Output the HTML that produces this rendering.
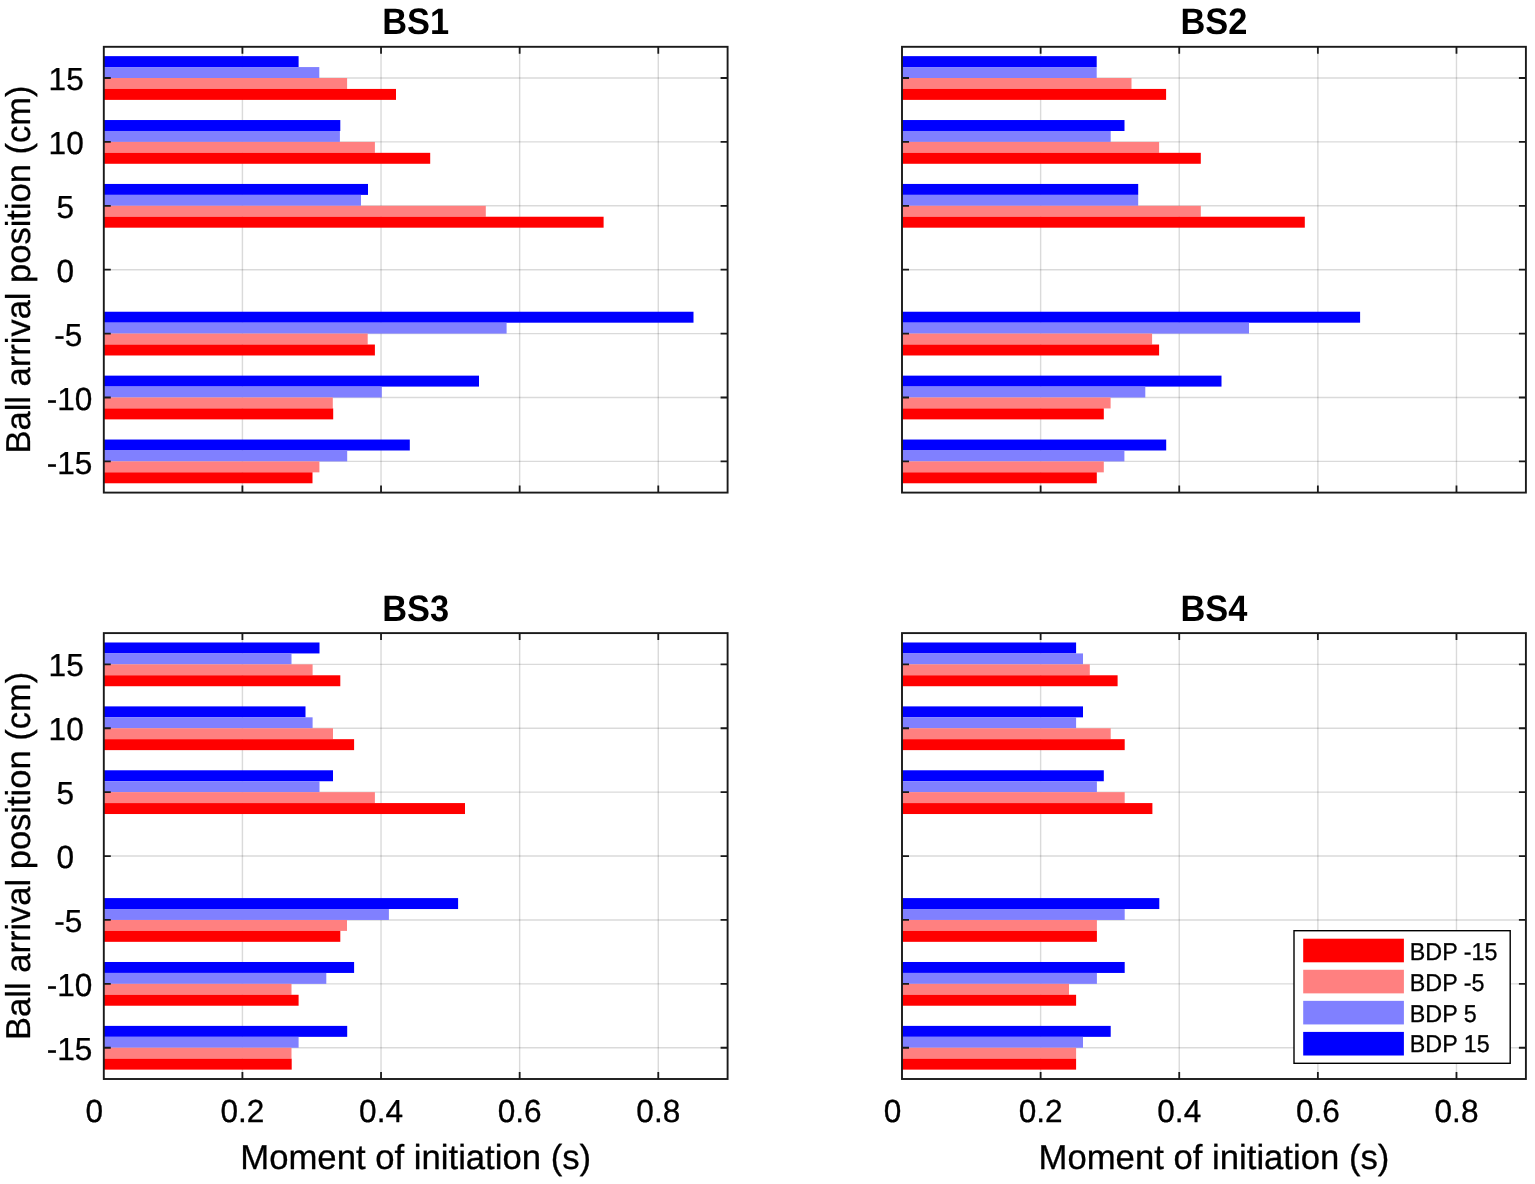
<!DOCTYPE html>
<html><head><meta charset="utf-8"><title>Moment of initiation</title>
<style>html,body{margin:0;padding:0;background:#fff;}body{width:1535px;height:1184px;overflow:hidden;}svg{display:block;}text{font-family:'Liberation Sans', Arial, Helvetica, sans-serif;text-rendering:geometricPrecision;}</style>
</head><body>
<svg width="1535" height="1184" viewBox="0 0 1535 1184">
<rect x="0" y="0" width="1535" height="1184" fill="#fff"/>
<g id="ax1">
<path d="M242.42 46.8V492.6M381.04 46.8V492.6M519.66 46.8V492.6M658.28 46.8V492.6" stroke="#262626" stroke-opacity="0.17" stroke-width="1.4" fill="none"/>
<path d="M103.8 78H727.6M103.8 141.9H727.6M103.8 205.8H727.6M103.8 269.7H727.6M103.8 333.6H727.6M103.8 397.5H727.6M103.8 461.4H727.6" stroke="#262626" stroke-opacity="0.17" stroke-width="1.4" fill="none"/>
<rect x="103.8" y="56.14" width="194.8" height="10.95" fill="#0000ff"/>
<rect x="103.8" y="67.07" width="215.5" height="10.95" fill="#8080ff"/>
<rect x="103.8" y="78" width="243.3" height="10.95" fill="#ff8080"/>
<rect x="103.8" y="88.93" width="292.2" height="10.95" fill="#ff0000"/>
<rect x="103.8" y="120.04" width="236.5" height="10.95" fill="#0000ff"/>
<rect x="103.8" y="130.97" width="236.1" height="10.95" fill="#8080ff"/>
<rect x="103.8" y="141.9" width="271.1" height="10.95" fill="#ff8080"/>
<rect x="103.8" y="152.83" width="326.4" height="10.95" fill="#ff0000"/>
<rect x="103.8" y="183.94" width="264.2" height="10.95" fill="#0000ff"/>
<rect x="103.8" y="194.87" width="257.2" height="10.95" fill="#8080ff"/>
<rect x="103.8" y="205.8" width="382" height="10.95" fill="#ff8080"/>
<rect x="103.8" y="216.73" width="499.8" height="10.95" fill="#ff0000"/>
<rect x="103.8" y="311.74" width="589.7" height="10.95" fill="#0000ff"/>
<rect x="103.8" y="322.67" width="402.8" height="10.95" fill="#8080ff"/>
<rect x="103.8" y="333.6" width="263.9" height="10.95" fill="#ff8080"/>
<rect x="103.8" y="344.53" width="271.1" height="10.95" fill="#ff0000"/>
<rect x="103.8" y="375.64" width="375.2" height="10.95" fill="#0000ff"/>
<rect x="103.8" y="386.57" width="278" height="10.95" fill="#8080ff"/>
<rect x="103.8" y="397.5" width="229" height="10.95" fill="#ff8080"/>
<rect x="103.8" y="408.43" width="229.4" height="10.95" fill="#ff0000"/>
<rect x="103.8" y="439.54" width="306" height="10.95" fill="#0000ff"/>
<rect x="103.8" y="450.47" width="243.4" height="10.95" fill="#8080ff"/>
<rect x="103.8" y="461.4" width="215.6" height="10.95" fill="#ff8080"/>
<rect x="103.8" y="472.33" width="208.7" height="10.95" fill="#ff0000"/>
<path d="M242.42 46.8v7M242.42 492.6v-7M381.04 46.8v7M381.04 492.6v-7M519.66 46.8v7M519.66 492.6v-7M658.28 46.8v7M658.28 492.6v-7M103.8 78h7M727.6 78h-7M103.8 141.9h7M727.6 141.9h-7M103.8 205.8h7M727.6 205.8h-7M103.8 269.7h7M727.6 269.7h-7M103.8 333.6h7M727.6 333.6h-7M103.8 397.5h7M727.6 397.5h-7M103.8 461.4h7M727.6 461.4h-7" stroke="#1a1a1a" stroke-width="1.8" fill="none"/>
<rect x="103.8" y="46.8" width="623.8" height="445.8" stroke="#1a1a1a" stroke-width="1.9" fill="none"/>
<text transform="translate(415.7 34.2) scale(1 1.07)" text-anchor="middle" font-weight="bold" font-size="34.4" fill="#000">BS1</text>
<text transform="translate(48.6 90.14) scale(1 1.008)" font-size="31.6" fill="#000" stroke="#000" stroke-width="0.3">15</text>
<text transform="translate(48.6 154.04) scale(1 1.008)" font-size="31.6" fill="#000" stroke="#000" stroke-width="0.3">10</text>
<text transform="translate(56.6 217.94) scale(1 1.008)" font-size="31.6" fill="#000" stroke="#000" stroke-width="0.3">5</text>
<text transform="translate(56.6 281.84) scale(1 1.008)" font-size="31.6" fill="#000" stroke="#000" stroke-width="0.3">0</text>
<text transform="translate(54.3 345.74) scale(1 1.008)" font-size="31.6" fill="#000" stroke="#000" stroke-width="0.3">-5</text>
<text transform="translate(46.75 409.64) scale(1 1.008)" font-size="31.6" fill="#000" stroke="#000" stroke-width="0.3">-10</text>
<text transform="translate(46.75 473.54) scale(1 1.008)" font-size="31.6" fill="#000" stroke="#000" stroke-width="0.3">-15</text>
<text transform="translate(30.4 269.5) rotate(-90) scale(1 1.0)" text-anchor="middle" font-size="34.5" fill="#000" stroke="#000" stroke-width="0.3">Ball arrival position (cm)</text>
</g>
<g id="ax2">
<path d="M1040.62 46.8V492.6M1179.24 46.8V492.6M1317.86 46.8V492.6M1456.48 46.8V492.6" stroke="#262626" stroke-opacity="0.17" stroke-width="1.4" fill="none"/>
<path d="M902 78H1525.9M902 141.9H1525.9M902 205.8H1525.9M902 269.7H1525.9M902 333.6H1525.9M902 397.5H1525.9M902 461.4H1525.9" stroke="#262626" stroke-opacity="0.17" stroke-width="1.4" fill="none"/>
<rect x="902" y="56.14" width="194.7" height="10.95" fill="#0000ff"/>
<rect x="902" y="67.07" width="194.7" height="10.95" fill="#8080ff"/>
<rect x="902" y="78" width="229.5" height="10.95" fill="#ff8080"/>
<rect x="902" y="88.93" width="264.1" height="10.95" fill="#ff0000"/>
<rect x="902" y="120.04" width="222.5" height="10.95" fill="#0000ff"/>
<rect x="902" y="130.97" width="208.7" height="10.95" fill="#8080ff"/>
<rect x="902" y="141.9" width="257.1" height="10.95" fill="#ff8080"/>
<rect x="902" y="152.83" width="298.8" height="10.95" fill="#ff0000"/>
<rect x="902" y="183.94" width="236.2" height="10.95" fill="#0000ff"/>
<rect x="902" y="194.87" width="236.2" height="10.95" fill="#8080ff"/>
<rect x="902" y="205.8" width="298.8" height="10.95" fill="#ff8080"/>
<rect x="902" y="216.73" width="402.8" height="10.95" fill="#ff0000"/>
<rect x="902" y="311.74" width="458.1" height="10.95" fill="#0000ff"/>
<rect x="902" y="322.67" width="347" height="10.95" fill="#8080ff"/>
<rect x="902" y="333.6" width="250.1" height="10.95" fill="#ff8080"/>
<rect x="902" y="344.53" width="257.1" height="10.95" fill="#ff0000"/>
<rect x="902" y="375.64" width="319.5" height="10.95" fill="#0000ff"/>
<rect x="902" y="386.57" width="243.3" height="10.95" fill="#8080ff"/>
<rect x="902" y="397.5" width="208.6" height="10.95" fill="#ff8080"/>
<rect x="902" y="408.43" width="201.8" height="10.95" fill="#ff0000"/>
<rect x="902" y="439.54" width="264.2" height="10.95" fill="#0000ff"/>
<rect x="902" y="450.47" width="222.4" height="10.95" fill="#8080ff"/>
<rect x="902" y="461.4" width="201.8" height="10.95" fill="#ff8080"/>
<rect x="902" y="472.33" width="194.8" height="10.95" fill="#ff0000"/>
<path d="M1040.62 46.8v7M1040.62 492.6v-7M1179.24 46.8v7M1179.24 492.6v-7M1317.86 46.8v7M1317.86 492.6v-7M1456.48 46.8v7M1456.48 492.6v-7M902 78h7M1525.9 78h-7M902 141.9h7M1525.9 141.9h-7M902 205.8h7M1525.9 205.8h-7M902 269.7h7M1525.9 269.7h-7M902 333.6h7M1525.9 333.6h-7M902 397.5h7M1525.9 397.5h-7M902 461.4h7M1525.9 461.4h-7" stroke="#1a1a1a" stroke-width="1.8" fill="none"/>
<rect x="902" y="46.8" width="623.9" height="445.8" stroke="#1a1a1a" stroke-width="1.9" fill="none"/>
<text transform="translate(1213.95 34.2) scale(1 1.07)" text-anchor="middle" font-weight="bold" font-size="34.4" fill="#000">BS2</text>
</g>
<g id="ax3">
<path d="M242.42 633.1V1079M381.04 633.1V1079M519.66 633.1V1079M658.28 633.1V1079" stroke="#262626" stroke-opacity="0.17" stroke-width="1.4" fill="none"/>
<path d="M103.8 664.35H727.6M103.8 728.25H727.6M103.8 792.15H727.6M103.8 856.05H727.6M103.8 919.95H727.6M103.8 983.85H727.6M103.8 1047.75H727.6" stroke="#262626" stroke-opacity="0.17" stroke-width="1.4" fill="none"/>
<rect x="103.8" y="642.49" width="215.7" height="10.95" fill="#0000ff"/>
<rect x="103.8" y="653.42" width="187.7" height="10.95" fill="#8080ff"/>
<rect x="103.8" y="664.35" width="208.8" height="10.95" fill="#ff8080"/>
<rect x="103.8" y="675.28" width="236.5" height="10.95" fill="#ff0000"/>
<rect x="103.8" y="706.39" width="201.7" height="10.95" fill="#0000ff"/>
<rect x="103.8" y="717.32" width="208.8" height="10.95" fill="#8080ff"/>
<rect x="103.8" y="728.25" width="229.2" height="10.95" fill="#ff8080"/>
<rect x="103.8" y="739.18" width="250.3" height="10.95" fill="#ff0000"/>
<rect x="103.8" y="770.29" width="229.2" height="10.95" fill="#0000ff"/>
<rect x="103.8" y="781.22" width="215.7" height="10.95" fill="#8080ff"/>
<rect x="103.8" y="792.15" width="271.1" height="10.95" fill="#ff8080"/>
<rect x="103.8" y="803.08" width="361.2" height="10.95" fill="#ff0000"/>
<rect x="103.8" y="898.09" width="354.3" height="10.95" fill="#0000ff"/>
<rect x="103.8" y="909.02" width="285.1" height="10.95" fill="#8080ff"/>
<rect x="103.8" y="919.95" width="243.2" height="10.95" fill="#ff8080"/>
<rect x="103.8" y="930.88" width="236.5" height="10.95" fill="#ff0000"/>
<rect x="103.8" y="961.99" width="250.3" height="10.95" fill="#0000ff"/>
<rect x="103.8" y="972.92" width="222.5" height="10.95" fill="#8080ff"/>
<rect x="103.8" y="983.85" width="187.7" height="10.95" fill="#ff8080"/>
<rect x="103.8" y="994.78" width="194.8" height="10.95" fill="#ff0000"/>
<rect x="103.8" y="1025.89" width="243.4" height="10.95" fill="#0000ff"/>
<rect x="103.8" y="1036.82" width="194.8" height="10.95" fill="#8080ff"/>
<rect x="103.8" y="1047.75" width="187.7" height="10.95" fill="#ff8080"/>
<rect x="103.8" y="1058.68" width="187.9" height="10.95" fill="#ff0000"/>
<path d="M242.42 633.1v7M242.42 1079v-7M381.04 633.1v7M381.04 1079v-7M519.66 633.1v7M519.66 1079v-7M658.28 633.1v7M658.28 1079v-7M103.8 664.35h7M727.6 664.35h-7M103.8 728.25h7M727.6 728.25h-7M103.8 792.15h7M727.6 792.15h-7M103.8 856.05h7M727.6 856.05h-7M103.8 919.95h7M727.6 919.95h-7M103.8 983.85h7M727.6 983.85h-7M103.8 1047.75h7M727.6 1047.75h-7" stroke="#1a1a1a" stroke-width="1.8" fill="none"/>
<rect x="103.8" y="633.1" width="623.8" height="445.9" stroke="#1a1a1a" stroke-width="1.9" fill="none"/>
<text transform="translate(415.7 620.5) scale(1 1.07)" text-anchor="middle" font-weight="bold" font-size="34.4" fill="#000">BS3</text>
<text transform="translate(48.6 676.49) scale(1 1.008)" font-size="31.6" fill="#000" stroke="#000" stroke-width="0.3">15</text>
<text transform="translate(48.6 740.39) scale(1 1.008)" font-size="31.6" fill="#000" stroke="#000" stroke-width="0.3">10</text>
<text transform="translate(56.6 804.29) scale(1 1.008)" font-size="31.6" fill="#000" stroke="#000" stroke-width="0.3">5</text>
<text transform="translate(56.6 868.19) scale(1 1.008)" font-size="31.6" fill="#000" stroke="#000" stroke-width="0.3">0</text>
<text transform="translate(54.3 932.09) scale(1 1.008)" font-size="31.6" fill="#000" stroke="#000" stroke-width="0.3">-5</text>
<text transform="translate(46.75 995.99) scale(1 1.008)" font-size="31.6" fill="#000" stroke="#000" stroke-width="0.3">-10</text>
<text transform="translate(46.75 1059.89) scale(1 1.008)" font-size="31.6" fill="#000" stroke="#000" stroke-width="0.3">-15</text>
<text transform="translate(30.4 855.85) rotate(-90) scale(1 1.0)" text-anchor="middle" font-size="34.5" fill="#000" stroke="#000" stroke-width="0.3">Ball arrival position (cm)</text>
<text transform="translate(94.3 1122.2) scale(1 1.008)" text-anchor="middle" font-size="31.6" fill="#000" stroke="#000" stroke-width="0.3">0</text>
<text transform="translate(242.42 1122.2) scale(1 1.008)" text-anchor="middle" font-size="31.6" fill="#000" stroke="#000" stroke-width="0.3">0.2</text>
<text transform="translate(381.04 1122.2) scale(1 1.008)" text-anchor="middle" font-size="31.6" fill="#000" stroke="#000" stroke-width="0.3">0.4</text>
<text transform="translate(519.66 1122.2) scale(1 1.008)" text-anchor="middle" font-size="31.6" fill="#000" stroke="#000" stroke-width="0.3">0.6</text>
<text transform="translate(658.28 1122.2) scale(1 1.008)" text-anchor="middle" font-size="31.6" fill="#000" stroke="#000" stroke-width="0.3">0.8</text>
<text transform="translate(415.7 1168.8) scale(1 1.0)" text-anchor="middle" font-size="34.7" fill="#000" stroke="#000" stroke-width="0.3">Moment of initiation (s)</text>
</g>
<g id="ax4">
<path d="M1040.62 633.1V1079M1179.24 633.1V1079M1317.86 633.1V1079M1456.48 633.1V1079" stroke="#262626" stroke-opacity="0.17" stroke-width="1.4" fill="none"/>
<path d="M902 664.35H1525.9M902 728.25H1525.9M902 792.15H1525.9M902 856.05H1525.9M902 919.95H1525.9M902 983.85H1525.9M902 1047.75H1525.9" stroke="#262626" stroke-opacity="0.17" stroke-width="1.4" fill="none"/>
<rect x="902" y="642.49" width="174.1" height="10.95" fill="#0000ff"/>
<rect x="902" y="653.42" width="181" height="10.95" fill="#8080ff"/>
<rect x="902" y="664.35" width="187.8" height="10.95" fill="#ff8080"/>
<rect x="902" y="675.28" width="215.6" height="10.95" fill="#ff0000"/>
<rect x="902" y="706.39" width="181" height="10.95" fill="#0000ff"/>
<rect x="902" y="717.32" width="174.1" height="10.95" fill="#8080ff"/>
<rect x="902" y="728.25" width="208.7" height="10.95" fill="#ff8080"/>
<rect x="902" y="739.18" width="222.7" height="10.95" fill="#ff0000"/>
<rect x="902" y="770.29" width="201.8" height="10.95" fill="#0000ff"/>
<rect x="902" y="781.22" width="194.9" height="10.95" fill="#8080ff"/>
<rect x="902" y="792.15" width="222.7" height="10.95" fill="#ff8080"/>
<rect x="902" y="803.08" width="250.4" height="10.95" fill="#ff0000"/>
<rect x="902" y="898.09" width="257.3" height="10.95" fill="#0000ff"/>
<rect x="902" y="909.02" width="222.7" height="10.95" fill="#8080ff"/>
<rect x="902" y="919.95" width="194.9" height="10.95" fill="#ff8080"/>
<rect x="902" y="930.88" width="194.9" height="10.95" fill="#ff0000"/>
<rect x="902" y="961.99" width="222.7" height="10.95" fill="#0000ff"/>
<rect x="902" y="972.92" width="194.9" height="10.95" fill="#8080ff"/>
<rect x="902" y="983.85" width="167" height="10.95" fill="#ff8080"/>
<rect x="902" y="994.78" width="174.1" height="10.95" fill="#ff0000"/>
<rect x="902" y="1025.89" width="208.7" height="10.95" fill="#0000ff"/>
<rect x="902" y="1036.82" width="181" height="10.95" fill="#8080ff"/>
<rect x="902" y="1047.75" width="174.1" height="10.95" fill="#ff8080"/>
<rect x="902" y="1058.68" width="174.1" height="10.95" fill="#ff0000"/>
<path d="M1040.62 633.1v7M1040.62 1079v-7M1179.24 633.1v7M1179.24 1079v-7M1317.86 633.1v7M1317.86 1079v-7M1456.48 633.1v7M1456.48 1079v-7M902 664.35h7M1525.9 664.35h-7M902 728.25h7M1525.9 728.25h-7M902 792.15h7M1525.9 792.15h-7M902 856.05h7M1525.9 856.05h-7M902 919.95h7M1525.9 919.95h-7M902 983.85h7M1525.9 983.85h-7M902 1047.75h7M1525.9 1047.75h-7" stroke="#1a1a1a" stroke-width="1.8" fill="none"/>
<rect x="902" y="633.1" width="623.9" height="445.9" stroke="#1a1a1a" stroke-width="1.9" fill="none"/>
<text transform="translate(1213.95 620.5) scale(1 1.07)" text-anchor="middle" font-weight="bold" font-size="34.4" fill="#000">BS4</text>
<text transform="translate(892.5 1122.2) scale(1 1.008)" text-anchor="middle" font-size="31.6" fill="#000" stroke="#000" stroke-width="0.3">0</text>
<text transform="translate(1040.62 1122.2) scale(1 1.008)" text-anchor="middle" font-size="31.6" fill="#000" stroke="#000" stroke-width="0.3">0.2</text>
<text transform="translate(1179.24 1122.2) scale(1 1.008)" text-anchor="middle" font-size="31.6" fill="#000" stroke="#000" stroke-width="0.3">0.4</text>
<text transform="translate(1317.86 1122.2) scale(1 1.008)" text-anchor="middle" font-size="31.6" fill="#000" stroke="#000" stroke-width="0.3">0.6</text>
<text transform="translate(1456.48 1122.2) scale(1 1.008)" text-anchor="middle" font-size="31.6" fill="#000" stroke="#000" stroke-width="0.3">0.8</text>
<text transform="translate(1213.95 1168.8) scale(1 1.0)" text-anchor="middle" font-size="34.7" fill="#000" stroke="#000" stroke-width="0.3">Moment of initiation (s)</text>
</g>
<rect x="1294" y="930.7" width="216.2" height="132.6" fill="#fff" stroke="#000" stroke-width="1.4"/>
<rect x="1303.2" y="938.7" width="100.7" height="23.6" fill="#ff0000"/>
<text transform="translate(1409.8 960) scale(1 1.043)" font-size="23.3" fill="#000" stroke="#000" stroke-width="0.3">BDP -15</text>
<rect x="1303.2" y="969.77" width="100.7" height="23.6" fill="#ff8080"/>
<text transform="translate(1409.8 990.75) scale(1 1.043)" font-size="23.3" fill="#000" stroke="#000" stroke-width="0.3">BDP -5</text>
<rect x="1303.2" y="1000.84" width="100.7" height="23.6" fill="#8080ff"/>
<text transform="translate(1409.8 1021.5) scale(1 1.043)" font-size="23.3" fill="#000" stroke="#000" stroke-width="0.3">BDP 5</text>
<rect x="1303.2" y="1031.91" width="100.7" height="23.6" fill="#0000ff"/>
<text transform="translate(1409.8 1052.25) scale(1 1.043)" font-size="23.3" fill="#000" stroke="#000" stroke-width="0.3">BDP 15</text>
</svg>
</body></html>
